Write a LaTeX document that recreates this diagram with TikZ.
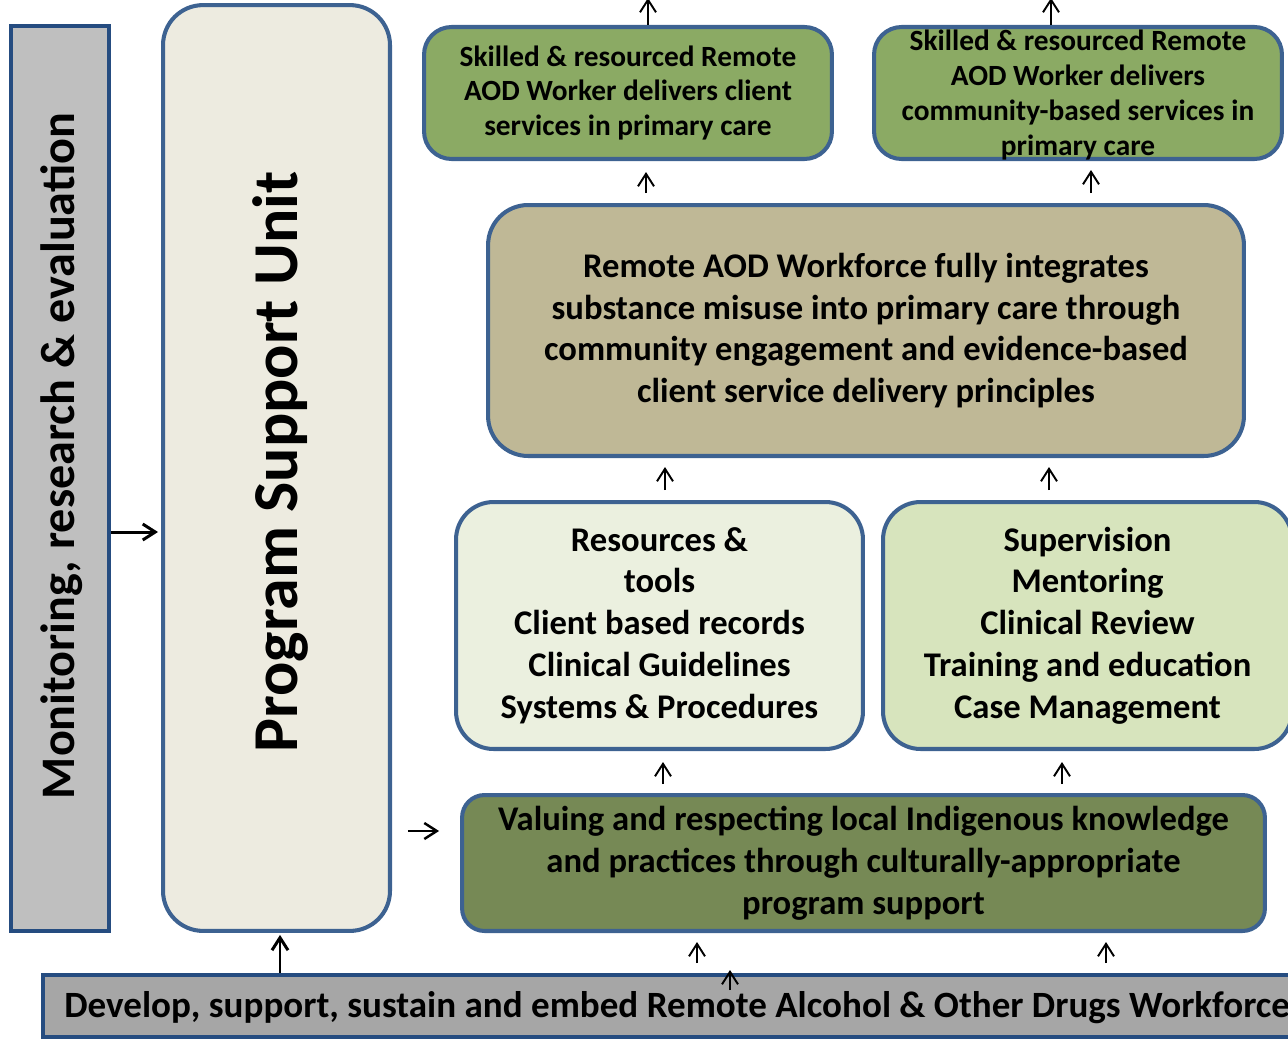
\documentclass[tikz,border=0pt]{standalone}
\usepackage{fontspec}
\setmainfont{Carlito}
\usetikzlibrary{arrows.meta}

\definecolor{boxline}{HTML}{3D6291}
\definecolor{barline}{HTML}{254C80}
\definecolor{sidegray}{HTML}{BFBFBF}
\definecolor{basegray}{HTML}{A6A6A6}
\definecolor{psufill}{HTML}{EDEBE0}
\definecolor{goalgreen}{HTML}{8BAA64}
\definecolor{outcometan}{HTML}{BFB896}
\definecolor{resfill}{HTML}{EBF0DF}
\definecolor{supfill}{HTML}{D7E4BD}
\definecolor{valfill}{HTML}{768955}

\begin{document}
\begin{tikzpicture}[x=0.02cm, y=-0.02cm,
    box/.style={draw=boxline, line width=2.3pt, align=center, inner sep=0pt,
        font=\bfseries\fontsize{19.7}{23.8}\selectfont},
    goal/.style={box, fill=goalgreen, rounded corners=0.55cm,
        minimum width=8.16cm, minimum height=2.64cm,
        font=\bfseries\fontsize{16.7}{19.8}\selectfont},
    midbox/.style={box, rounded corners=0.75cm, minimum width=8.14cm, minimum height=4.94cm},
    bar/.style={draw=barline, line width=2.3pt, inner sep=0pt},
    arr/.style={-{Straight Barb[length=0.25cm,width=0.32cm]}, line width=1.1pt},
    bigarr/.style={arr, line width=1.7pt}
]
    \clip (0,0) rectangle (1288,1038);

    % Side columns
    \node[bar, fill=sidegray, minimum width=1.96cm, minimum height=18.1cm] (monitor) at (60,478.5) {};
    \node[rotate=90, font=\bfseries\fontsize{27.4}{32}\selectfont] (monitortxt) at (62,456) {Monitoring, research \& evaluation};
    \node[box, fill=psufill, rounded corners=0.8cm, minimum width=4.54cm, minimum height=18.52cm] (psu) at (276.5,468) {};
    \node[rotate=90, font=\bfseries\fontsize{36.4}{42}\selectfont] (psutxt) at (280,462) {Program Support Unit};

    % Goals
    \node[goal] (goalA) at (628,93) {Skilled \& resourced Remote\\AOD Worker delivers client\\services in primary care};
    \node[goal] (goalB) at (1078,93) {};
    \node[align=center, inner sep=0pt, font=\bfseries\fontsize{16.7}{19.8}\selectfont] (goalBtxt) at (1078,95)
        {Skilled \& resourced Remote\\AOD Worker delivers\\community-based services in\\primary care};

    % Outcome
    \node[box, fill=outcometan, rounded corners=0.8cm, minimum width=15.12cm, minimum height=5.02cm] (outcome) at (866,330.5)
        {Remote AOD Workforce fully integrates\\substance misuse into primary care through\\community engagement and evidence-based\\client service delivery principles};

    % Inputs
    \node[midbox, fill=resfill] (resources) at (659.5,625.5)
        {Resources \&\\tools\\Client based records\\Clinical Guidelines\\Systems \& Procedures};
    \node[midbox, fill=supfill, minimum width=8.18cm] (supervision) at (1087.5,625.5)
        {Supervision\\Mentoring\\Clinical Review\\Training and education\\Case Management};

    % Foundation
    \node[box, fill=valfill, rounded corners=0.45cm, minimum width=16.06cm, minimum height=2.72cm] (valuing) at (863.5,863)
        {Valuing and respecting local Indigenous knowledge\\and practices through culturally-appropriate\\program support};
    \node[bar, fill=basegray, anchor=west, minimum width=26cm, minimum height=1.24cm] (develop) at (41,1006) {};
    \node[anchor=west, inner sep=0pt, font=\bfseries\fontsize{21.1}{25}\selectfont] (developtxt) at (64,1008)
        {Develop, support, sustain and embed Remote Alcohol \& Other Drugs Workforce};

    % Arrows
    \coordinate (topA) at (648,-2);
    \coordinate (topB) at (1051,-2);
    \coordinate (stray) at (730,990);
    \draw[arr] (goalA.north -| 648,0) -- (topA);
    \draw[arr] (goalB.north -| 1051,0) -- (topB);
    \draw[arr, shorten <=0.2cm, shorten >=0.22cm] (outcome.north -| 646,0) -- (goalA.south -| 646,0);
    \draw[arr, shorten <=0.2cm, shorten >=0.18cm] (outcome.north -| 1091,0) -- (goalB.south -| 1091,0);
    \draw[arr, shorten <=0.2cm, shorten >=0.18cm] (resources.north -| 665,0) -- (outcome.south -| 665,0);
    \draw[arr, shorten <=0.2cm, shorten >=0.18cm] (supervision.north -| 1049,0) -- (outcome.south -| 1049,0);
    \draw[arr, shorten <=0.18cm, shorten >=0.22cm] (valuing.north -| 663,0) -- (resources.south -| 663,0);
    \draw[arr, shorten <=0.18cm, shorten >=0.22cm] (valuing.north -| 1062,0) -- (supervision.south -| 1062,0);
    \draw[arr, shorten <=0.2cm, shorten >=0.18cm] (develop.north -| 697,0) -- (valuing.south -| 697,0);
    \draw[arr, shorten <=0.2cm, shorten >=0.18cm] (develop.north -| 1106,0) -- (valuing.south -| 1106,0);
    \draw[arr] (stray) -- ++(0,-20);
    \draw[bigarr, shorten >=0.06cm] (monitor.east |- 0,532) -- (psu.west |- 0,532);
    \draw[arr, line width=1.4pt, shorten <=0.32cm, shorten >=0.42cm] (psu.east |- 0,831) -- (valuing.west |- 0,831);
    \draw[bigarr, shorten >=0.04cm] (develop.north -| 280,0) -- (psu.south -| 280,0);
\end{tikzpicture}
\end{document}
